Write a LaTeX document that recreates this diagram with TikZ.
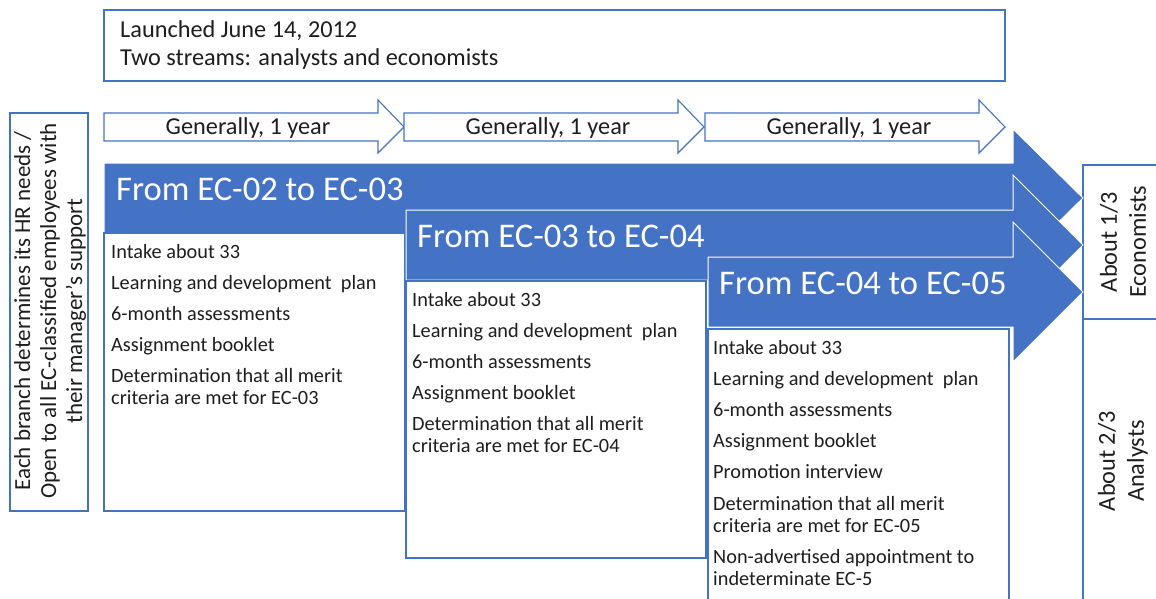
\documentclass[tikz,border=0pt]{standalone}
\usepackage{fontspec}
\setmainfont{Carlito}
\definecolor{accent}{HTML}{4472C4}
\definecolor{ink}{HTML}{1E1E1E}
\begin{document}
\begin{tikzpicture}[x=1pt,y=-1pt,
  frame/.style={draw=accent, line width=1.2pt, fill=white},
  bigarrow/.style={fill=accent, draw=white, line width=1pt, line join=miter},
  thinarrow/.style={draw=accent, line width=1.1pt, fill=white, line join=miter},
  item/.style={font=\fontsize{20.3}{22}\selectfont, text=ink, anchor=base west, inner sep=0pt},
  stage/.style={font=\fontsize{34.6}{40}\selectfont, text=white, anchor=base west, inner sep=0pt},
  label/.style={font=\fontsize{24.3}{29}\selectfont, text=ink, inner sep=0pt},
]
\useasboundingbox (0,0) rectangle (1156,599);
\clip (0,0) rectangle (1156,599);
\fill[white] (0,0) rectangle (1156,599);

% program summary
\draw[frame] (104,10) rectangle (1005,81);
\node[label, anchor=base west] (launch) at (120,38) {Launched June 14, 2012};
\node[label, anchor=base west] (streams) at (120,66) {Two streams: analysts and economists};

% eligibility
\draw[frame] (10,113) rectangle (88,511);
\node[rotate=90, align=center, font=\fontsize{23}{26}\selectfont, text=ink, inner sep=0pt] (eligibility) at (50,311)
  {Each branch determines its HR needs /\\Open to all EC-classified employees with\\their manager’s support};

% duration of each stage
\foreach \s/\n in {104/1, 404/2, 705/3} {
  \draw[thinarrow] (\s,113) -- (\s+274,113) -- (\s+274,100) -- (\s+300,127)
    -- (\s+274,153) -- (\s+274,141) -- (\s,141) -- cycle;
  \node[label, anchor=base] (term\n) at (\s+144,135) {Generally, 1 year};
}

% outcome split
\draw[frame] (1083,165) rectangle (1175,319);
\draw[frame] (1083,319) rectangle (1175,620);
\node[rotate=90, align=center, label] (econ) at (1123,242) {About 1/3\\Economists};
\node[rotate=90, align=center, label] (analysts) at (1123,461) {About 2/3\\Analysts};

% stage 1
\draw[bigarrow] (104,163) -- (1013,163) -- (1013,129) -- (1083,198) -- (1013,267)
  -- (1013,233) -- (104,233) -- cycle;
\node[stage] (stage1) at (116,200) {From EC-02 to EC-03};
\draw[frame] (104,233) rectangle (405,511);
\foreach \y/\t [count=\i] in {258/Intake about 33, 289/Learning and development\ \ plan,
  320/6-month assessments, 351/Assignment booklet, 382/Determination that all merit,
  404/criteria are met for EC-03}
  \node[item] (a\i) at (111,\y) {\t};

% stage 2
\draw[bigarrow] (406,210) -- (1013,210) -- (1013,175) -- (1083,245) -- (1013,315)
  -- (1013,280) -- (406,280) -- cycle;
\node[stage] (stage2) at (417,247) {From EC-03 to EC-04};
\draw[frame] (406,281) rectangle (706,558);
\foreach \y/\t [count=\i] in {306/Intake about 33, 337/Learning and development\ \ plan,
  368/6-month assessments, 399/Assignment booklet, 430/Determination that all merit,
  452/criteria are met for EC-04}
  \node[item] (b\i) at (412,\y) {\t};

% stage 3
\draw[bigarrow] (708,257) -- (1013,257) -- (1013,222) -- (1083,292) -- (1013,362)
  -- (1013,327) -- (708,327) -- cycle;
\node[stage] (stage3) at (719,294) {From EC-04 to EC-05};
\draw[frame] (708,329) rectangle (1009,620);
\foreach \y/\t [count=\i] in {354/Intake about 33, 385/Learning and development\ \ plan,
  416/6-month assessments, 447/Assignment booklet, 478/Promotion interview,
  510/Determination that all merit, 532/criteria are met for EC-05,
  563/Non-advertised appointment to, 585/indeterminate EC-5}
  \node[item] (c\i) at (713,\y) {\t};
\end{tikzpicture}
\end{document}
